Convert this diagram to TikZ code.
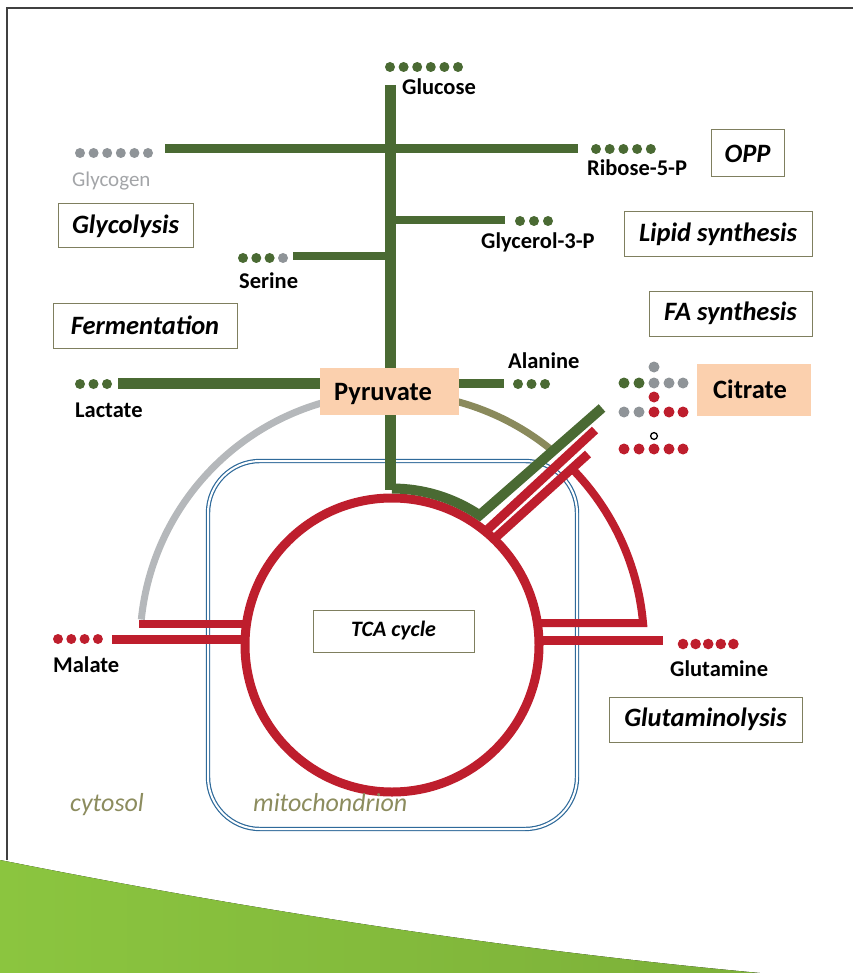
\documentclass[tikz,border=0pt]{standalone}
\usepackage{fontspec}
\setmainfont{Carlito}
\definecolor{dg}{HTML}{4A6A33}
\definecolor{rd}{HTML}{BE1E2D}
\definecolor{gy}{HTML}{8F9498}
\definecolor{lgy}{HTML}{B5B8BB}
\definecolor{ol}{HTML}{8A8A5C}
\definecolor{peach}{HTML}{FBD0AE}
\definecolor{bx}{HTML}{7F7F5F}
\definecolor{mb}{HTML}{2F6A9A}
\definecolor{txtol}{HTML}{8C8C5E}
\definecolor{gl}{HTML}{8BC53F}
\definecolor{gr}{HTML}{7CB039}
\definecolor{frame}{HTML}{404040}
\begin{document}
\begin{tikzpicture}[x=1pt,y=-1pt,
  lbl/.style={font=\bfseries\fontsize{22.5}{24}\selectfont,inner sep=0pt,anchor=base west},
  glbl/.style={font=\fontsize{21}{24}\selectfont,inner sep=0pt,anchor=base west,text=lgy!90!black},
  reg/.style={font=\itshape\fontsize{26}{28}\selectfont,inner sep=0pt,anchor=base west,text=txtol},
  boxlbl/.style={draw=bx,line width=1pt,font=\bfseries\itshape\fontsize{26.5}{28}\selectfont,inner sep=0pt,fill=white},
  metab/.style={fill=peach,inner sep=0pt},
  metabtxt/.style={font=\bfseries\fontsize{26.5}{28}\selectfont,inner sep=0pt,anchor=base west},
  gbar/.style={draw=dg,line width=#1},
  rbar/.style={draw=rd,line width=#1},
]
\useasboundingbox (0,0) rectangle (853,973);
% frame
\draw[frame,line width=1.5pt] (7,860) -- (7,8) -- (853,8);
% green band at bottom
\fill[left color=gl,right color=gr] (0,860) .. controls (260,912) and (520,951) .. (760,973) -- (0,973) -- cycle;

\coordinate (c) at (392,645);

% mitochondrion
\draw[mb,line width=1.2pt,double=white,double distance=2pt,rounded corners=52pt] (208,461) rectangle (577,829);

% outer arcs
\draw[lgy,line width=7pt] ([shift={(174.2:252pt)}]c) arc[start angle=174.2,end angle=100,radius=252pt];
\draw[ol,line width=7pt] ([shift={(76:252pt)}]c) arc[start angle=76,end angle=50,radius=252pt];

% TCA circle
\draw[rd,line width=9pt] (c) circle (147pt);

% red connectors
\draw[rbar=9pt] (486,531) -- (595,430);
\draw[rbar=9pt] (494,539) -- (588,454);
\draw[rbar=8pt,line join=miter] ([shift={(44.4:252pt)}]c) arc[start angle=44.4,end angle=5,radius=252pt] -- (536,623);
\draw[rbar=8pt] (139,624) -- (248,624);
\draw[rbar=9pt] (112,639) -- (248,639);
\draw[rbar=9pt] (536,640) -- (663,640);

% green pathways
\draw[gbar=11pt] (390,85) -- (390,490);
\draw[gbar=10pt,line join=miter] ([shift={(90:156.5pt)}]c) arc[start angle=90,end angle=56,radius=156.5pt] -- (602,408);
\draw[gbar=9pt] (165,149) -- (578,149);
\draw[gbar=8pt] (390,220) -- (505,220);
\draw[gbar=8pt] (293,256) -- (390,256);
\draw[gbar=11pt] (118,383) -- (320,383);
\draw[gbar=9pt] (458,383) -- (504,383);

% boxes
\node[boxlbl,minimum width=135pt,minimum height=44pt] (glycolysis) at (125.5,226) {Glycolysis};
\node[boxlbl,minimum width=73pt,minimum height=47pt] (opp) at (747.5,153.5) {OPP};
\node[boxlbl,minimum width=188pt,minimum height=45pt] (lipid) at (718,234.5) {Lipid synthesis};
\node[boxlbl,minimum width=184pt,minimum height=45pt] (ferm) at (145,325.5) {Fermentation};
\node[boxlbl,minimum width=163pt,minimum height=45pt] (fa) at (730.5,313.5) {FA synthesis};
\node[boxlbl,minimum width=161pt,minimum height=42pt,font=\bfseries\itshape\fontsize{22}{24}\selectfont] (tca) at (393.5,631) {TCA cycle};
\node[boxlbl,minimum width=193pt,minimum height=45pt] (glnlys) at (705.5,719.5) {Glutaminolysis};
\node[metab,minimum width=139pt,minimum height=47pt] (pyr) at (389,391) {};
\node[metabtxt] (pyrtxt) at (334,400) {Pyruvate};
\node[metab,minimum width=114pt,minimum height=52pt] (cit) at (753.5,390) {};
\node[metabtxt] (cittxt) at (713,398) {Citrate};

% dots
\foreach \i in {0,...,5} \fill[dg] ({390+13.6*\i},67) circle (5pt);
\foreach \i in {0,...,5} \fill[gy] ({80+13.6*\i},153) circle (5pt);
\foreach \i in {0,...,4} \fill[dg] ({596+13.7*\i},149) circle (5pt);
\foreach \i in {0,...,2} \fill[dg] ({520+14*\i},221) circle (5pt);
\foreach \i in {0,...,2} \fill[dg] ({243+13.3*\i},258) circle (5pt);
\fill[gy] (283,258) circle (5pt);
\foreach \i in {0,...,2} \fill[dg] ({80+13.5*\i},384) circle (5pt);
\foreach \i in {0,...,2} \fill[dg] ({518+13.5*\i},384) circle (5pt);
\foreach \i in {0,...,3} \fill[rd] ({58+13.3*\i},639) circle (5pt);
\foreach \i in {0,...,4} \fill[rd] ({683+12.6*\i},644) circle (5.3pt);
% citrate dots
\fill[gy] (654,367) circle (5.5pt);
\foreach \x/\col in {624/dg,639/dg,654/gy,669/gy,683/gy} \fill[\col] (\x,383) circle (5.5pt);
\fill[rd] (654,397) circle (5.5pt);
\foreach \x/\col in {624/gy,639/gy,654/rd,669/rd,683/rd} \fill[\col] (\x,412) circle (5.5pt);
\draw[black,line width=1.3pt] (654,436) circle (3.4pt);
\foreach \x in {624,639,654,669,683} \fill[rd] (\x,449) circle (5.5pt);

% labels
\node[lbl] (glc) at (402,95) {Glucose};
\node[glbl] (glyc) at (72,187) {Glycogen};
\node[lbl] (r5p) at (587,176) {Ribose-5-P};
\node[lbl] (g3p) at (481,249) {Glycerol-3-P};
\node[lbl] (ser) at (239,288) {Serine};
\node[lbl] (ala) at (508,368) {Alanine};
\node[lbl] (lac) at (75,417) {Lactate};
\node[lbl] (mal) at (53,672) {Malate};
\node[lbl] (gln) at (670,676) {Glutamine};
\node[reg] (cyto) at (70,811) {cytosol};
\node[reg] (mito) at (253,811) {mitochondrion};
\end{tikzpicture}
\end{document}
